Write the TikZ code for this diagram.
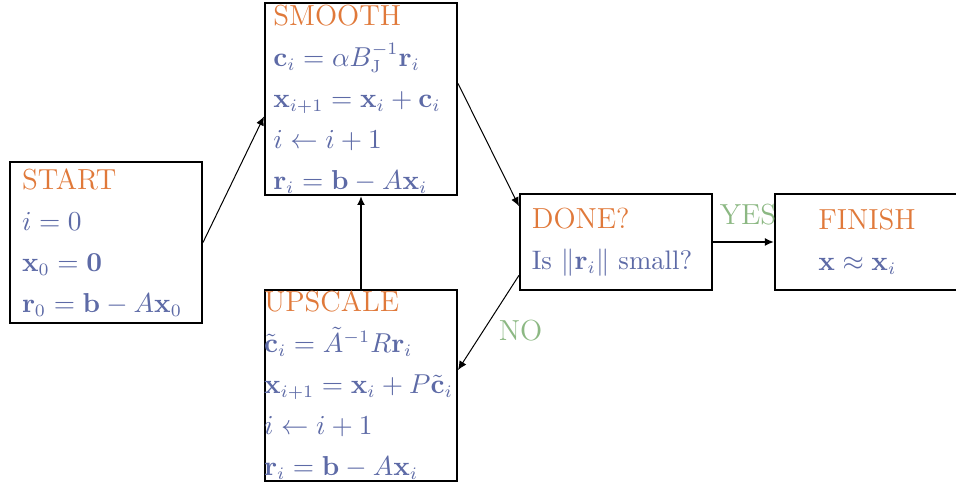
\documentclass[tikz,border=0pt]{standalone}
\usepackage{amsmath,amssymb}
\usetikzlibrary{arrows.meta,calc}
\definecolor{cTitle}{HTML}{E0793A}
\definecolor{cMath}{HTML}{5D6AA6}
\definecolor{cLabel}{HTML}{8CB883}
\newcommand{\stagename}[1]{{\fontsize{11.6}{16.4}\selectfont\color{cTitle}#1}}

\begin{document}
\begin{tikzpicture}[
   x=0.4pt, y=-0.4pt,
   font=\fontsize{10.7}{16.4}\selectfont, >={Latex[length=3.6pt,width=3.2pt]},
   stage/.style={draw=black, line width=0.8pt, minimum width=76.8pt, inner sep=0pt},
   body/.style={align=left, text=cMath, inner sep=0pt, xshift=-1.6pt},
   flow/.style={->, line width=0.4pt},
   back/.style={->, line width=0.8pt},
   verdict/.style={text=cLabel, font=\fontsize{11.6}{14}\selectfont}]
  \useasboundingbox (0,0) rectangle (956,484);
  \node[stage, minimum height=64.4pt] (start)   at (106,242.5) {};
  \node[stage, minimum height=76.8pt] (smooth)  at (361,99)    {};
  \node[stage, minimum height=76.4pt] (upscale) at (361,385.5) {};
  \node[stage, minimum height=38.4pt] (done)    at (616,242)   {};
  \node[stage, minimum height=38.4pt] (finish)  at (871,242)   {};
  \node[body] (start-t) at (start) {\stagename{START}\\ $i=0$\\ $\mathbf{x}_0=\mathbf{0}$\\
     $\mathbf{r}_0=\mathbf{b}-A\mathbf{x}_0$};
  \node[body] (smooth-t) at (smooth) {\stagename{SMOOTH}\\ $\mathbf{c}_i=\alpha B_{\mathrm{J}}^{-1}\mathbf{r}_i$\\
     $\mathbf{x}_{i+1}=\mathbf{x}_i+\mathbf{c}_i$\\ $i\leftarrow i+1$\\ $\mathbf{r}_i=\mathbf{b}-A\mathbf{x}_i$};
  \node[body, xshift=0.6pt] (upscale-t) at (upscale) {\stagename{UPSCALE}\\ $\tilde{\mathbf{c}}_i=\tilde{A}^{-1}R\mathbf{r}_i$\\
     $\mathbf{x}_{i+1}=\mathbf{x}_i+P\tilde{\mathbf{c}}_i$\\ $i\leftarrow i+1$\\ $\mathbf{r}_i=\mathbf{b}-A\mathbf{x}_i$};
  \node[body] (done-t) at (done) {\stagename{DONE?}\\ Is $\|\mathbf{r}_i\|$ small?};
  \node[body] (finish-t) at (finish) {\stagename{FINISH}\\ $\mathbf{x}\approx\mathbf{x}_i$};
  \draw[flow] (start.east) -- ($(smooth.north west)!0.59!(smooth.south west)$);
  \draw[flow] ($(smooth.north east)!0.42!(smooth.south east)$) -- ($(done.north west)!0.135!(done.south west)$);
  \draw[flow] ($(done.north west)!0.84!(done.south west)$) -- ($(upscale.north east)!0.42!(upscale.south east)$)
     node[verdict, pos=0.58, right=2.6pt] (no) {NO};
  \draw[back] (upscale.north) -- (smooth.south);
  \draw[back] (done.east) -- (finish.west)
     node[verdict, midway, above=3pt, xshift=1.8pt] (yes) {YES};
\end{tikzpicture}
\end{document}
